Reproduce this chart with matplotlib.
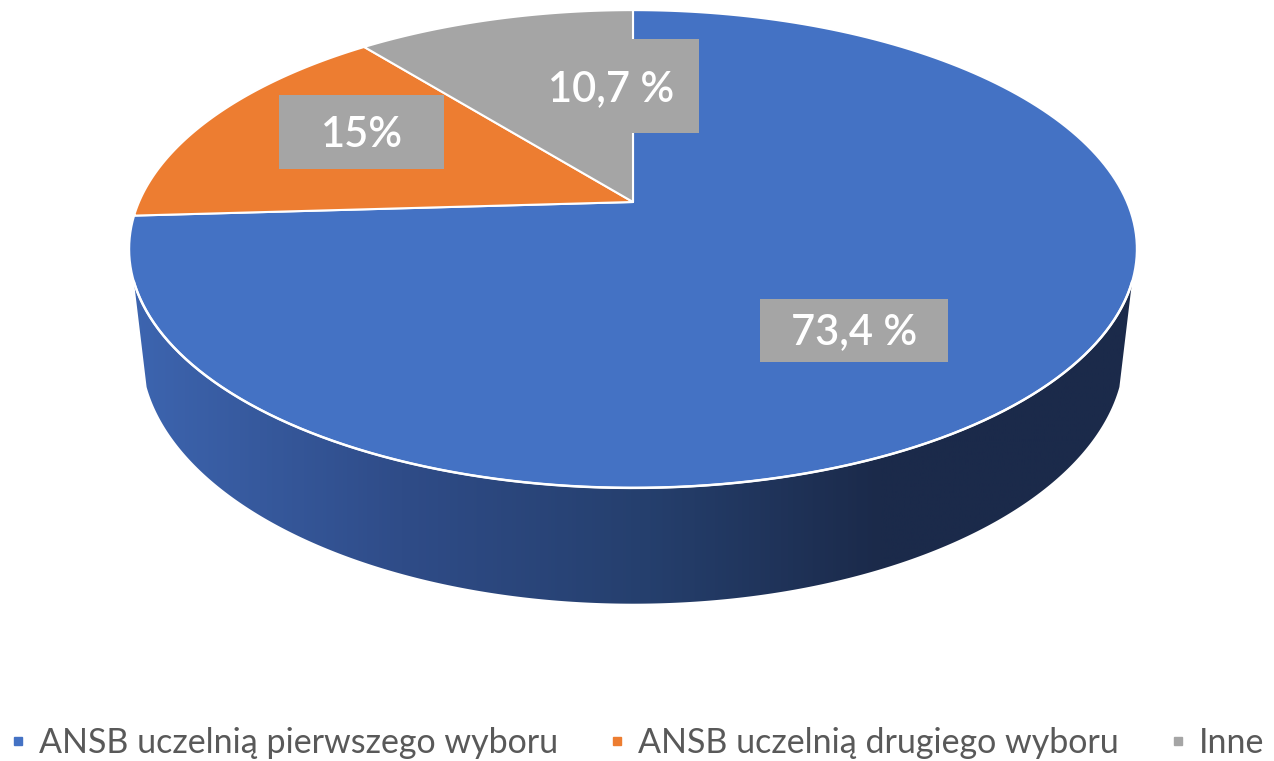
import numpy as np
import matplotlib.pyplot as plt
from matplotlib.patches import Polygon, Rectangle
from matplotlib.lines import Line2D
from matplotlib.colors import LinearSegmentedColormap

plt.rcParams['font.family'] = ['Lato', 'DejaVu Sans']

categories = ['ANSB uczelnią pierwszego wyboru', 'ANSB uczelnią drugiego wyboru', 'Inne']
shares = [73.4, 15.0, 10.7]
share_labels = ['73,4 %', '15%', '10,7 %']
colors = ['#4472C4', '#ED7D31', '#A5A5A5']

# pixel canvas and a simple perspective camera for the 3d pie
W, H = 1274, 761
cx, cy = 633, 202
elev = np.radians(27.7)
dist, focal, thick = 4.5, 2223, 0.235


def project(alpha, z=0.0):
	# alpha: clockwise from 12 o'clock on the pie plane
	u = np.sin(alpha)
	v = np.cos(alpha)
	Y = v*np.sin(elev) + z*np.cos(elev)
	depth = dist + v*np.cos(elev) - z*np.sin(elev)
	return np.column_stack([cx + focal*u/depth, cy - focal*Y/depth])


fig = plt.figure(figsize=(W/100, H/100), dpi=100)
ax = fig.add_axes([0, 0, 1, 1])

# side wall (front part only)
a0 = np.arccos(-0.326)
side_a = np.linspace(a0, 2*np.pi - a0, 300)
top_rim = project(side_a)
bot_rim = project(side_a, -thick)
side = Polygon(np.vstack([top_rim, bot_rim[::-1]]), closed=True,
	facecolor='none', edgecolor='none')
ax.add_patch(side)
side_cmap = LinearSegmentedColormap.from_list('side', [
	(0.0, '#3d65b0'), (0.267, '#2f4c88'), (0.515, '#253f6d'),
	(0.743, '#1b2a4a'), (1.0, '#1b2a4b')])
grad = np.linspace(0, 1, 512)[np.newaxis, :]
im = ax.imshow(grad, extent=[130, 1140, 620, 260], aspect='auto', cmap=side_cmap, zorder=1)
im.set_clip_path(side)
ax.set_xlim(0, W)
ax.set_ylim(H, 0)
ax.axis('off')

# top surface
fr = np.array(shares) / np.sum(shares)
edges = np.concatenate([[0], np.cumsum(fr)]) * 2*np.pi
for i in range(len(shares)):
	a = np.linspace(edges[i], edges[i+1], 200)
	pts = np.vstack([[[cx, cy]], project(a)])
	ax.add_patch(Polygon(pts, closed=True, facecolor=colors[i],
		edgecolor='white', linewidth=1.5, joinstyle='round', zorder=2))
ax.plot(top_rim[:, 0], top_rim[:, 1], color='white', lw=1.8, zorder=3)

# data labels
label_boxes = [(760, 299, 188, 63), (279, 95, 165, 74), (523, 39, 176, 94)]
label_pos = [(854, 332), (362, 135), (611, 89)]
for i in range(len(shares)):
	x, y, w, h = label_boxes[i]
	ax.add_patch(Rectangle((x, y), w, h, facecolor='#A5A5A5', edgecolor='none', zorder=4))
	ax.text(label_pos[i][0], label_pos[i][1], share_labels[i], color='white',
		fontsize=30, fontweight='semibold', ha='center', va='center', zorder=5)

handles = [Line2D([], [], marker='s', linestyle='', markersize=6, color=c) for c in colors]
fig.legend(handles, categories, loc='center left', bbox_to_anchor=(8/W, 1 - 743/H),
	ncol=3, frameon=False, fontsize=24.5, labelcolor='#595959',
	borderpad=0, borderaxespad=0,
	handlelength=0.6, handletextpad=0.3, columnspacing=1.45)

fig.savefig('out.png', dpi=100)
